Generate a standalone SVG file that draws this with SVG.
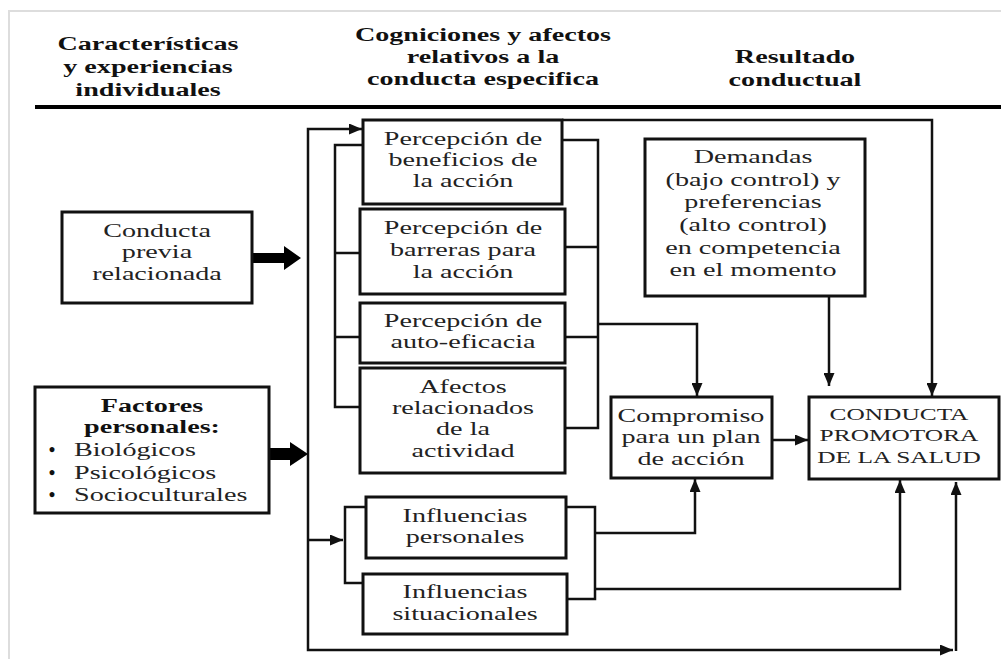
<svg xmlns="http://www.w3.org/2000/svg" width="1001" height="659" viewBox="0 0 1001 659">
<style>
.box{fill:#fff;stroke:#111;stroke-width:3}
.t{font-family:"Liberation Serif","Times New Roman",serif;font-size:18.5px;fill:#222;text-anchor:middle}
.l{text-anchor:start}
.b{font-weight:bold;fill:#111}
.c{fill:none;stroke:#111;stroke-width:2.5}
.thick{fill:#000}
</style>
<defs>
<marker id="ah" markerUnits="userSpaceOnUse" markerWidth="13" markerHeight="11" refX="13" refY="5.5" orient="auto">
<path d="M0,0 L13,5.5 L0,11 z" fill="#111"/>
</marker>
</defs>
<rect width="1001" height="659" fill="#fff"/>
<path d="M9,659 L9,11 L1001,11" fill="none" stroke="#ddd" stroke-width="2"/>
<g id="header">
<text class="t b" transform="translate(148,0) scale(1.52,1)"><tspan x="0" y="50">Características</tspan><tspan x="0" y="73">y experiencias</tspan><tspan x="0" y="96">individuales</tspan></text>
<text class="t b" transform="translate(483,0) scale(1.52,1)"><tspan x="0" y="41">Cogniciones y afectos</tspan><tspan x="0" y="63">relativos a la</tspan><tspan x="0" y="85">conducta especifica</tspan></text>
<text class="t b" transform="translate(795,0) scale(1.52,1)"><tspan x="0" y="63">Resultado</tspan><tspan x="0" y="86">conductual</tspan></text>
<rect x="35" y="105" width="966" height="4" fill="#000"/>
</g>
<g id="connectors">
<path class="c" d="M308,540 L308,129 L362,129" marker-end="url(#ah)"/>
<path class="c" d="M308,540 L343,540" marker-end="url(#ah)"/>
<path class="c" d="M308,540 L308,650 L953,650" marker-end="url(#ah)"/>
<path class="c" d="M956,651 L956,482" marker-end="url(#ah)"/>
<path class="c" d="M363,145 L335,145 L335,407 L360,407 M335,253 L360,253 M335,337 L360,337"/>
<path class="c" d="M562,140 L598,140 L598,428 L565,428 M565,247 L598,247 M565,337 L598,337"/>
<path class="c" d="M598,324 L697,324 L697,396" marker-end="url(#ah)"/>
<path class="c" d="M562,120 L932,120 L932,396" marker-end="url(#ah)"/>
<path class="c" d="M829,297 L829,386" marker-end="url(#ah)"/>
<path class="c" d="M772,440 L808,440" marker-end="url(#ah)"/>
<path class="c" d="M366,507 L345,507 L345,583 L363,583"/>
<path class="c" d="M566,507 L595,507 L595,599 L567,599"/>
<path class="c" d="M595,533 L695,533 L695,479" marker-end="url(#ah)"/>
<path class="c" d="M595,589 L900,589 L900,480" marker-end="url(#ah)"/>
<polygon class="thick" points="252,253 284,253 284,246 301,258 284,270 284,263 252,263"/>
<polygon class="thick" points="269,448 290,448 290,442 308,454 290,466 290,460 269,460"/>
</g>
<g id="conducta-previa">
<rect class="box" x="62" y="212" width="190" height="91"/>
<text class="t" transform="translate(157,0) scale(1.52,1)"><tspan x="0" y="237">Conducta</tspan><tspan x="0" y="258">previa</tspan><tspan x="0" y="280">relacionada</tspan></text>
</g>
<g id="factores-personales">
<rect class="box" x="35" y="387" width="234" height="126"/>
<text class="t b" transform="translate(152,0) scale(1.52,1)"><tspan x="0" y="412">Factores</tspan><tspan x="0" y="433">personales:</tspan></text>
<text class="t b"><tspan x="52" y="456">•</tspan><tspan x="52" y="479">•</tspan><tspan x="52" y="501">•</tspan></text>
<text class="t l" transform="translate(74,0) scale(1.52,1)"><tspan x="0" y="456">Biológicos</tspan><tspan x="0" y="479">Psicológicos</tspan><tspan x="0" y="501">Socioculturales</tspan></text>
</g>
<g id="beneficios">
<rect class="box" x="363" y="120" width="199" height="84"/>
<text class="t" transform="translate(463,0) scale(1.52,1)"><tspan x="0" y="145">Percepción de</tspan><tspan x="0" y="166">beneficios de</tspan><tspan x="0" y="187">la acción</tspan></text>
</g>
<g id="barreras">
<rect class="box" x="360" y="209" width="205" height="85"/>
<text class="t" transform="translate(463,0) scale(1.52,1)"><tspan x="0" y="234">Percepción de</tspan><tspan x="0" y="256">barreras para</tspan><tspan x="0" y="278">la acción</tspan></text>
</g>
<g id="autoeficacia">
<rect class="box" x="360" y="303" width="205" height="60"/>
<text class="t" transform="translate(463,0) scale(1.52,1)"><tspan x="0" y="327">Percepción de</tspan><tspan x="0" y="348">auto-eficacia</tspan></text>
</g>
<g id="afectos">
<rect class="box" x="360" y="368" width="205" height="105"/>
<text class="t" transform="translate(463,0) scale(1.52,1)"><tspan x="0" y="393">Afectos</tspan><tspan x="0" y="414">relacionados</tspan><tspan x="0" y="435">de la</tspan><tspan x="0" y="457">actividad</tspan></text>
</g>
<g id="influencias-personales">
<rect class="box" x="366" y="497" width="200" height="61"/>
<text class="t" transform="translate(465,0) scale(1.52,1)"><tspan x="0" y="522">Influencias</tspan><tspan x="0" y="543">personales</tspan></text>
</g>
<g id="influencias-situacionales">
<rect class="box" x="363" y="574" width="204" height="60"/>
<text class="t" transform="translate(465,0) scale(1.52,1)"><tspan x="0" y="598">Influencias</tspan><tspan x="0" y="620">situacionales</tspan></text>
</g>
<g id="demandas">
<rect class="box" x="645" y="139" width="220" height="157"/>
<text class="t" transform="translate(753,0) scale(1.52,1)"><tspan x="0" y="163">Demandas</tspan><tspan x="0" y="186">(bajo control) y</tspan><tspan x="0" y="208">preferencias</tspan><tspan x="0" y="231">(alto control)</tspan><tspan x="0" y="254">en competencia</tspan><tspan x="0" y="276">en el momento</tspan></text>
</g>
<g id="compromiso">
<rect class="box" x="611" y="397" width="161" height="81"/>
<text class="t" transform="translate(691,0) scale(1.52,1)"><tspan x="0" y="422">Compromiso</tspan><tspan x="0" y="443">para un plan</tspan><tspan x="0" y="465">de acción</tspan></text>
</g>
<g id="conducta-promotora">
<rect class="box" x="809" y="397" width="190" height="82"/>
<text class="t" style="font-size:17.5px" transform="translate(899,0) scale(1.45,1)"><tspan x="0" y="420">CONDUCTA</tspan><tspan x="0" y="441">PROMOTORA</tspan><tspan x="0" y="463">DE LA SALUD</tspan></text>
</g>
</svg>
